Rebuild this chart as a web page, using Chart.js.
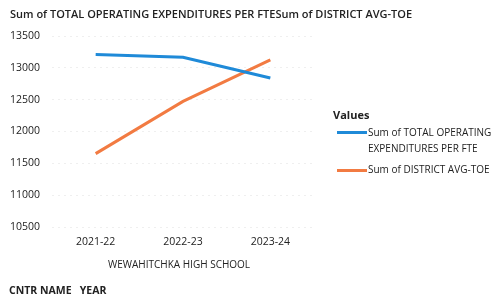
<!DOCTYPE html>
<html>
<head>
<meta charset="utf-8">
<script src="https://cdn.jsdelivr.net/npm/chart.js@4.4.0/dist/chart.umd.min.js"></script>
<style>
  body { margin: 0; background: #fff; font-family: "Open Sans", sans-serif; color: #222; }
  #wrap { position: relative; width: 499px; height: 299px; overflow: hidden; }
  #wrap canvas { position: absolute; left: 0; top: 0; }
  .txt { position: absolute; white-space: nowrap; font-size: 10px; }
  .legline { position: absolute; width: 30px; height: 3px; }
</style>
</head>
<body>
<div id="wrap">
  <canvas id="myChart" width="499" height="299"></canvas>
  <div class="txt" style="left:10px; top:6px; font-size:11px; font-weight:600;">Sum of TOTAL OPERATING EXPENDITURES PER FTESum of DISTRICT AVG-TOE</div>
  <div class="txt" style="left:333px; top:107px; font-weight:bold; font-size:11px;">Values</div>
  <div class="legline" style="left:337px; top:131px; background:#1f8ad8;"></div>
  <div class="txt" style="left:368px; top:124px; line-height:16px;">Sum of TOTAL OPERATING<br>EXPENDITURES PER FTE</div>
  <div class="legline" style="left:337px; top:169px; background:#f27b42;"></div>
  <div class="txt" style="left:368px; top:162px;">Sum of DISTRICT AVG-TOE</div>
  <div class="txt" style="left:108px; top:257px;">WEWAHITCHKA HIGH SCHOOL</div>
  <div class="txt" style="left:9px; top:283px; font-weight:bold; font-size:10.5px;">CNTR NAME&nbsp;&nbsp; YEAR</div>
</div>
<script>
// años (categorias)
const anios = ['2021-22', '2022-23', '2023-24'];
// valores
const gastoPorFTE = [13208, 13167, 12839];
const promedioDistrito = [11652, 12473, 13125];
const ticksY = [10500, 11000, 11500, 12000, 12500, 13000, 13500];

const ctx = document.getElementById('myChart');
const myChart = new Chart(ctx, {
  type: 'line',
  data: {
    labels: anios,
    datasets: [
      { label: 'Sum of TOTAL OPERATING EXPENDITURES PER FTE', data: gastoPorFTE,
        borderColor: '#1f8ad8', borderWidth: 3, pointRadius: 0, tension: 0 },
      { label: 'Sum of DISTRICT AVG-TOE', data: promedioDistrito,
        borderColor: '#f27b42', borderWidth: 3, pointRadius: 0, tension: 0 }
    ]
  },
  options: {
    responsive: false,
    animation: false,
    layout: { padding: { top: 36, right: 185, left: 0, bottom: 0 } },
    plugins: { legend: { display: false }, tooltip: { enabled: false } },
    scales: {
      x: {
        offset: true,
        grid: { display: false, drawTicks: false },
        border: { display: false },
        ticks: { padding: 9, color: '#222', font: { family: 'Open Sans', size: 10.5 } },
        afterFit: (scale) => { scale.height = 72; }
      },
      y: {
        min: ticksY[0],
        max: ticksY[ticksY.length - 1],
        afterBuildTicks: (scale) => { scale.ticks = ticksY.map(v => ({ value: v })); },
        grid: { color: '#efefef', drawTicks: false },
        border: { display: false, dash: [2, 4] },
        ticks: { padding: 12, color: '#222', font: { family: 'Open Sans', size: 10.5 },
          callback: (v) => String(v) },
        afterFit: (scale) => { scale.width = 52; }
      }
    }
  }
});
</script>
</body>
</html>
